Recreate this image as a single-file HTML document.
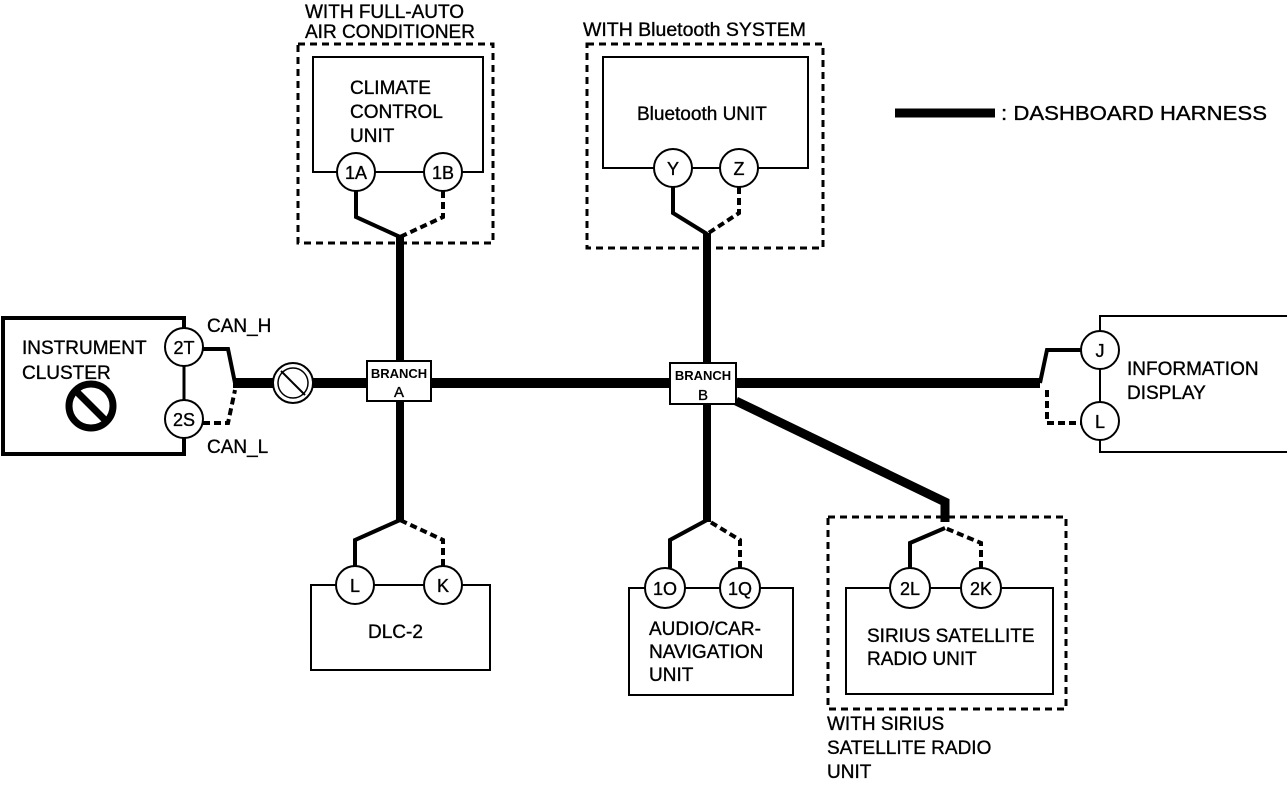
<!DOCTYPE html>
<html><head><style>
html,body{margin:0;padding:0;background:#fff;}
svg{display:block;}
text{font-family:"Liberation Sans",Arial,sans-serif;fill:#000;stroke:#000;stroke-width:0.35px;}
.t{font-size:19px;}
.c{font-size:18px;text-anchor:middle;}
.b{font-size:13px;text-anchor:middle;font-weight:bold;stroke-width:0;}
</style></head><body>
<svg width="1287" height="786" viewBox="0 0 1287 786" xmlns="http://www.w3.org/2000/svg">
<g fill="none" stroke="#000">
<line x1="233" y1="383" x2="1040" y2="383" stroke-width="10"/>
<line x1="400" y1="236" x2="400" y2="522" stroke-width="8"/>
<line x1="707" y1="233" x2="707" y2="522" stroke-width="8"/>
<polyline points="736,401 945,502 945,522" stroke-width="9"/>
<line x1="895" y1="113" x2="995" y2="113" stroke-width="9"/>

<polyline points="184,329 184,318 3,318 3,454 184,454 184,438" stroke-width="4"/>
<line x1="184" y1="366" x2="184" y2="400" stroke-width="3"/>
<circle cx="184" cy="347" r="19" fill="#fff" stroke-width="2"/>
<circle cx="184" cy="419" r="19" fill="#fff" stroke-width="2"/>
<circle cx="91" cy="406" r="22" stroke-width="7"/>
<line x1="76" y1="391" x2="106" y2="421" stroke-width="7"/>
<polyline points="203,349 228,349 235,383" stroke-width="4"/>
<polyline points="203,423 228,423 235,390" stroke-width="4" stroke-dasharray="7,4"/>
<circle cx="293" cy="383" r="20" fill="#fff" stroke-width="2"/>
<circle cx="293" cy="383" r="15" stroke-width="1.5"/>
<line x1="281" y1="371" x2="305" y2="395" stroke-width="2"/>

<rect x="367" y="361" width="64" height="40" fill="#fff" stroke-width="2"/>
<rect x="670" y="363" width="66" height="41" fill="#fff" stroke-width="2"/>

<rect x="298" y="44" width="195" height="199" stroke-width="3" stroke-dasharray="7,5"/>
<polyline points="337,172 313,172 313,57 483,57 483,172 462,172" stroke-width="2"/>
<line x1="375" y1="172" x2="424" y2="172" stroke-width="2"/>
<circle cx="356" cy="172" r="19" fill="#fff" stroke-width="2"/>
<circle cx="443" cy="172" r="19" fill="#fff" stroke-width="2"/>
<polyline points="356,191 356,217 400,237" stroke-width="4"/>
<polyline points="443,191 443,217 400,237" stroke-width="4" stroke-dasharray="7,4"/>

<rect x="587" y="44" width="236" height="204" stroke-width="3" stroke-dasharray="7,5"/>
<polyline points="654,168 603,168 603,57 808,57 808,168 758,168" stroke-width="2"/>
<line x1="692" y1="168" x2="720" y2="168" stroke-width="2"/>
<circle cx="673" cy="168" r="19" fill="#fff" stroke-width="2"/>
<circle cx="739" cy="168" r="19" fill="#fff" stroke-width="2"/>
<polyline points="673,187 673,213 707,234" stroke-width="4"/>
<polyline points="739,187 739,213 707,234" stroke-width="4" stroke-dasharray="7,4"/>

<polyline points="1100,331 1100,316 1290,316 1290,452 1100,452 1100,440" stroke-width="2"/>
<line x1="1100" y1="369" x2="1100" y2="402" stroke-width="2"/>
<circle cx="1100" cy="350" r="19" fill="#fff" stroke-width="2"/>
<circle cx="1100" cy="421" r="19" fill="#fff" stroke-width="2"/>
<polyline points="1040,383 1047,350 1081,350" stroke-width="4"/>
<polyline points="1047,390 1047,423 1081,423" stroke-width="4" stroke-dasharray="7,4"/>

<polyline points="336,585 311,585 311,670 490,670 490,585 462,585" stroke-width="2"/>
<line x1="374" y1="585" x2="424" y2="585" stroke-width="2"/>
<circle cx="355" cy="585" r="19" fill="#fff" stroke-width="2"/>
<circle cx="443" cy="585" r="19" fill="#fff" stroke-width="2"/>
<polyline points="355,566 355,540 400,520" stroke-width="4"/>
<polyline points="443,566 443,540 400,520" stroke-width="4" stroke-dasharray="7,4"/>

<polyline points="646,588 629,588 629,695 793,695 793,588 760,588" stroke-width="2"/>
<line x1="685" y1="588" x2="720" y2="588" stroke-width="2"/>
<circle cx="665" cy="588" r="20" fill="#fff" stroke-width="2"/>
<circle cx="740" cy="588" r="20" fill="#fff" stroke-width="2"/>
<polyline points="670,568 670,540 707,520" stroke-width="4"/>
<polyline points="740,568 740,540 707,520" stroke-width="4" stroke-dasharray="7,4"/>

<rect x="828" y="517" width="238" height="192" stroke-width="3" stroke-dasharray="7,5"/>
<polyline points="890,588 846,588 846,694 1053,694 1053,588 1002,588" stroke-width="2"/>
<line x1="930" y1="588" x2="961" y2="588" stroke-width="2"/>
<circle cx="910" cy="588" r="20" fill="#fff" stroke-width="2"/>
<circle cx="981" cy="588" r="20" fill="#fff" stroke-width="2"/>
<polyline points="910,568 910,543 945,528" stroke-width="4"/>
<polyline points="981,568 981,543 945,528" stroke-width="4" stroke-dasharray="7,4"/>
</g>

<text class="t" x="22" y="354">INSTRUMENT</text>
<text class="t" x="22" y="379">CLUSTER</text>
<text class="c" x="184" y="354">2T</text>
<text class="c" x="184" y="426">2S</text>
<text class="t" x="207" y="332">CAN_H</text>
<text class="t" x="207" y="453">CAN_L</text>
<text class="b" x="399" y="378">BRANCH</text>
<text class="c" x="399" y="397" style="font-size:15px">A</text>
<text class="b" x="703" y="380">BRANCH</text>
<text class="c" x="703" y="400" style="font-size:15px">B</text>

<text class="t" x="305" y="18">WITH FULL-AUTO</text>
<text class="t" x="305" y="38">AIR CONDITIONER</text>
<text class="t" x="350" y="94">CLIMATE</text>
<text class="t" x="350" y="118">CONTROL</text>
<text class="t" x="350" y="142">UNIT</text>
<text class="c" x="356" y="179">1A</text>
<text class="c" x="443" y="179">1B</text>

<text class="t" x="583" y="36" textLength="223" lengthAdjust="spacingAndGlyphs">WITH Bluetooth SYSTEM</text>
<text class="t" x="637" y="120">Bluetooth UNIT</text>
<text class="c" x="673" y="175">Y</text>
<text class="c" x="739" y="175">Z</text>

<text class="t" x="1001" y="120" textLength="266" lengthAdjust="spacingAndGlyphs" style="font-size:20px">: DASHBOARD HARNESS</text>

<text class="c" x="1100" y="357">J</text>
<text class="c" x="1100" y="428">L</text>
<text class="t" x="1127" y="375">INFORMATION</text>
<text class="t" x="1127" y="399">DISPLAY</text>

<text class="c" x="355" y="592">L</text>
<text class="c" x="443" y="592">K</text>
<text class="t" x="368" y="638">DLC-2</text>

<text class="c" x="665" y="595">1O</text>
<text class="c" x="740" y="595">1Q</text>
<text class="t" x="649" y="635">AUDIO/CAR-</text>
<text class="t" x="649" y="658">NAVIGATION</text>
<text class="t" x="649" y="681">UNIT</text>

<text class="c" x="910" y="595">2L</text>
<text class="c" x="981" y="595">2K</text>
<text class="t" x="867" y="642">SIRIUS SATELLITE</text>
<text class="t" x="867" y="665">RADIO UNIT</text>
<text class="t" x="827" y="730">WITH SIRIUS</text>
<text class="t" x="827" y="754">SATELLITE RADIO</text>
<text class="t" x="827" y="778">UNIT</text>
</svg>
</body></html>
